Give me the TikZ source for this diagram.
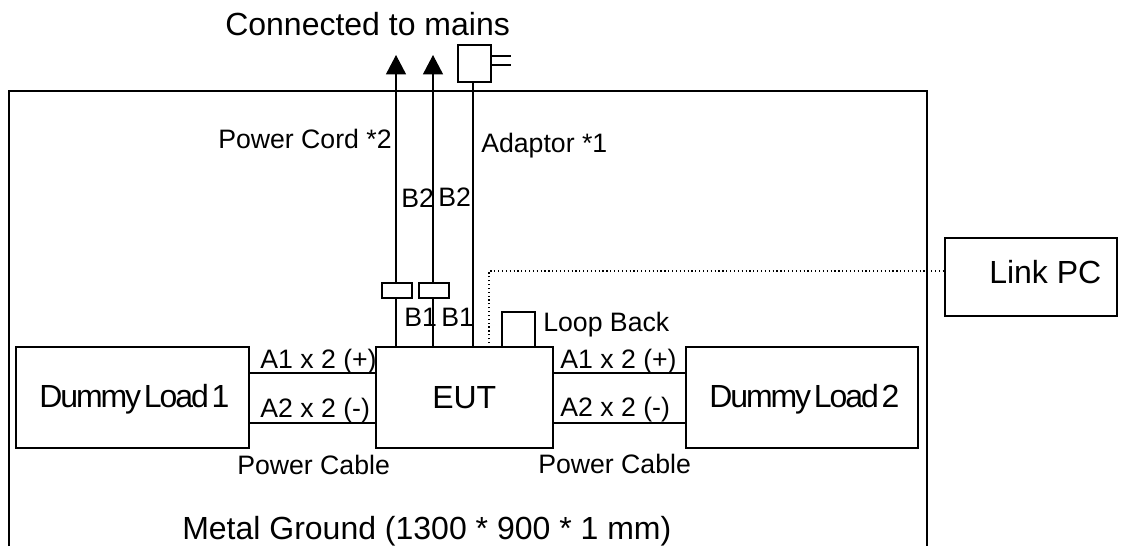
\documentclass[tikz,border=0pt]{standalone}
\usepackage{fontspec}
\setmainfont{Liberation Sans}
\usetikzlibrary{arrows.meta}
\newfontfamily\tightfont[LetterSpace=-6.5,WordSpace=0.4]{Liberation Sans}
\tikzset{x=0.75pt,y=-0.75pt,
 box/.style={draw,line width=0.9pt,inner sep=0pt,minimum width=#1},
 wire/.style={line width=0.9pt},
 uparrow/.style={wire,-{Triangle[length=14.5pt,width=15pt]}},
 small/.style={font=\fontsize{20}{24}\selectfont,inner sep=0pt,anchor=base west},
 big/.style={font=\fontsize{24}{28}\selectfont,inner sep=0pt,anchor=base west},
 load/.style={font=\fontsize{24}{28}\selectfont\tightfont,inner sep=0pt,anchor=base west}}
\begin{document}
\begin{tikzpicture}
\useasboundingbox (0,0) rectangle (1145,546);
\fill[white] (0,0) rectangle (1145,546);
% ground plate, open at the bottom
\coordinate (g1) at (9,546); \coordinate (g2) at (9,91);
\coordinate (g3) at (927,91); \coordinate (g4) at (927,546);
\draw[wire] (g1)--(g2)--(g3)--(g4);
% boxes
\node[box=174.75pt,minimum height=75.75pt] (dl1) at (132.5,397.5) {};
\node[box=132.75pt,minimum height=75.75pt] (eut) at (464.5,397.5) {};
\node[box=174pt,minimum height=75.75pt] (dl2) at (802,397.5) {};
\node[box=129pt,minimum height=58.5pt] (pc) at (1031,277) {};
\node[box=24.75pt,minimum height=26.25pt] (lb) at (518.5,329.5) {};
\node[box=22.5pt,minimum height=11.25pt] (f1) at (397,290.5) {};
\node[box=22.5pt,minimum height=11.25pt] (f2) at (434,290.5) {};
\node[box=24.75pt,minimum height=27.75pt] (ad) at (474.5,63.5) {};
% free ends
\coordinate (a1) at (396,55); \coordinate (a2) at (433,55);
\coordinate (w1) at (396,300); \coordinate (w2) at (433,300); \coordinate (w3) at (473,300);
\coordinate (y1) at (300,373); \coordinate (y2) at (300,423);
\coordinate (d1) at (489,347); \coordinate (d2) at (489,271);
\coordinate (p1) at (511,56); \coordinate (p2) at (511,65);
% connectors
\draw[wire] (eut.north -| w1) -- (f1.south -| w1);
\draw[wire] (eut.north -| w2) -- (f2.south -| w2);
\draw[uparrow] (f1.north -| w1) -- (a1);
\draw[uparrow] (f2.north -| w2) -- (a2);
\draw[wire] (eut.north -| w3) -- (ad.south -| w3);
\draw[wire] (ad.east |- p1) -- (p1);
\draw[wire] (ad.east |- p2) -- (p2);
\draw[wire] (dl1.east |- y1) -- (eut.west |- y1);
\draw[wire] (dl1.east |- y2) -- (eut.west |- y2);
\draw[wire] (eut.east |- y1) -- (dl2.west |- y1);
\draw[wire] (eut.east |- y2) -- (dl2.west |- y2);
\draw[line width=0.9pt,dotted] (d1) -- (d2) -- (pc.west |- d2);
% labels
\node[big] (tc) at (225,35) {Connected to mains};
\node[big] (tg) at (182,539) {Metal Ground (1300 * 900 * 1 mm)};
\node[big] (te) at (432,408) {EUT};
\node[big] (tp) at (989,283) {Link PC};
\node[load] (td1) at (39,407) {Dummy Load 1};
\node[load] (td2) at (709,407) {Dummy Load 2};
\node[small] (l1) at (218,148) {Power Cord *2};
\node[small] (l2) at (481,152) {Adaptor *1};
\node[small] (l3) at (401,207) {B2};
\node[small] (l4) at (438,206) {B2};
\node[small] (l5) at (404,326) {B1};
\node[small] (l6) at (441,326) {B1};
\node[small] (l7) at (543,331) {Loop Back};
\node[small] (l8) at (260,368) {A1 x 2 (+)};
\node[small] (l9) at (260,417) {A2 x 2 (-)};
\node[small] (l10) at (560,368) {A1 x 2 (+)};
\node[small] (l11) at (560,416) {A2 x 2 (-)};
\node[small] (l12) at (237,474) {Power Cable};
\node[small] (l13) at (538,473) {Power Cable};
\end{tikzpicture}
\end{document}
